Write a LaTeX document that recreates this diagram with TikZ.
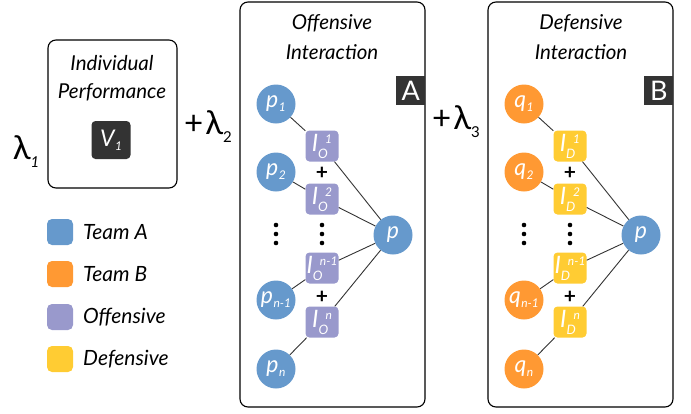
\documentclass[tikz,border=0pt]{standalone}
\usepackage{fontspec}
\setmainfont{Lato}
\definecolor{teamA}{HTML}{6699CC}
\definecolor{teamB}{HTML}{FF9933}
\definecolor{offc}{HTML}{9999CC}
\definecolor{defc}{HTML}{FFCC33}
\definecolor{dark}{HTML}{333333}
% letter with a lowered index
\newcommand{\withsub}[3][12]{#2\kern0.5pt\raisebox{-4pt}{\fontsize{#1}{#1}\selectfont #3}}
% interaction symbol: letter, sub and sup
\newcommand{\ivar}[2]{\fontsize{24}{24}\selectfont I%
  \makebox[0pt][l]{\raisebox{-7pt}{\fontsize{13}{13}\selectfont #1}}%
  \raisebox{8pt}{\kern7pt\fontsize{12}{12}\selectfont #2}}
\begin{document}
\begin{tikzpicture}[x=1pt,y=-1pt,
  panel/.style={draw=black, line width=1.1pt, rounded corners=8pt},
  title/.style={font=\itshape\fontsize{20.5}{20.5}\selectfont, inner sep=0pt},
  player/.style={circle, minimum size=39pt, inner sep=0pt, text=white,
                 font=\itshape\fontsize{23}{23}\selectfont},
  pla/.style={player, fill=teamA},
  plb/.style={player, fill=teamB},
  inter/.style={rounded corners=4pt, minimum width=33pt, minimum height=31pt,
                inner sep=0pt, text=white, font=\itshape},
  ioff/.style={inter, fill=offc},
  idef/.style={inter, fill=defc},
  tagbox/.style={fill=dark, text=white, minimum width=29pt, minimum height=29pt,
              inner sep=0pt, font=\fontsize{27}{27}\selectfont},
  link/.style={draw=dark, line width=0.9pt},
  plussign/.style={font=\bfseries\fontsize{21}{21}\selectfont, inner sep=0pt},
  coef/.style={font=\fontsize{33}{33}\selectfont, inner sep=0pt},
  swatch/.style={rounded corners=5pt, minimum size=26pt, inner sep=0pt},
  legtext/.style={anchor=west, inner sep=0pt, font=\itshape\fontsize{21}{21}\selectfont}]
\path[use as bounding box] (0,0) rectangle (691,413);

% coefficients
\node[coef] (lam1) at (26,152) {λ\raisebox{-8pt}{\fontsize{15}{15}\selectfont\itshape 1}};
\node[coef] (lam2) at (208,127) {+\kern2pt λ\raisebox{-8pt}{\fontsize{15}{15}\selectfont 2}};
\node[coef] (lam3) at (456,122) {+\kern2pt λ\raisebox{-8pt}{\fontsize{15}{15}\selectfont 3}};

% individual performance
\draw[panel] (48,40) rectangle (177,188);
\node[title] (ind1) at (112,63) {Individual};
\node[title] (ind2) at (112,92) {Performance};
\node[tagbox, rounded corners=4pt, minimum width=39pt, minimum height=38pt,
      font=\itshape\fontsize{23}{23}\selectfont] (v) at (111,140) {\withsub{V}{1}};

% offensive interaction
\draw[panel] (240,2) rectangle (425,407);
\node[title] (offt1) at (332,23) {Offensive};
\node[title] (offt2) at (332,52) {Interaction};
\node[tagbox, anchor=north east] (tagA) at (425.5,76) {A};

\node[pla] (pA1) at (276,104) {\withsub{p}{1}};
\node[pla] (pA2) at (276,172) {\withsub{p}{2}};
\node[pla] (pAm) at (276,300) {\withsub{p}{n-1}};
\node[pla] (pAn) at (276,369) {\withsub{p}{n}};
\node[pla] (pA)  at (393,235) {p};
\node[ioff] (iA1) at (322,146) {\ivar{O}{1}};
\node[ioff] (iA2) at (322,199) {\ivar{O}{2}};
\node[ioff] (iAm) at (322,268) {\ivar{O}{n-1}};
\node[ioff] (iAn) at (322,322) {\ivar{O}{n}};
\node[plussign] (plA1) at (322,173) {+};
\node[plussign] (plA2) at (322,297) {+};
\foreach \y in {225,234,243} {
  \fill (276,\y) circle (2.3);
  \fill (322,\y) circle (2.3);
}
\draw[link] (pA1) -- (iA1) (iA1) -- (pA);
\draw[link] (pA2) -- (iA2) (iA2) -- (pA);
\draw[link] (pAm) -- (iAm) (iAm) -- (pA);
\draw[link] (pAn) -- (iAn) (iAn) -- (pA);

% defensive interaction
\draw[panel] (488,2) rectangle (673,407);
\node[title] (deft1) at (581,23) {Defensive};
\node[title] (deft2) at (581,52) {Interaction};
\node[tagbox, anchor=north east] (tagB) at (673.5,76) {B};

\node[plb] (qB1) at (524,104) {\withsub{q}{1}};
\node[plb] (qB2) at (524,172) {\withsub{q}{2}};
\node[plb] (qBm) at (524,300) {\withsub{q}{n-1}};
\node[plb] (qBn) at (524,369) {\withsub{q}{n}};
\node[pla] (pB)  at (641,235) {p};
\node[idef] (iB1) at (570,146) {\ivar{D}{1}};
\node[idef] (iB2) at (570,199) {\ivar{D}{2}};
\node[idef] (iBm) at (570,268) {\ivar{D}{n-1}};
\node[idef] (iBn) at (570,322) {\ivar{D}{n}};
\node[plussign] (plB1) at (570,173) {+};
\node[plussign] (plB2) at (570,297) {+};
\foreach \y in {225,234,243} {
  \fill (524,\y) circle (2.3);
  \fill (570,\y) circle (2.3);
}
\draw[link] (qB1) -- (iB1) (iB1) -- (pB);
\draw[link] (qB2) -- (iB2) (iB2) -- (pB);
\draw[link] (qBm) -- (iBm) (iBm) -- (pB);
\draw[link] (qBn) -- (iBn) (iBn) -- (pB);

% legend
\node[swatch, fill=teamA] (sw1) at (60,232) {};
\node[swatch, fill=teamB] (sw2) at (60,274) {};
\node[swatch, fill=offc]  (sw3) at (60,317) {};
\node[swatch, fill=defc]  (sw4) at (60,359) {};
\node[legtext] (lg1) at (83,232) {Team A};
\node[legtext] (lg2) at (83,274) {Team B};
\node[legtext] (lg3) at (83,317) {Offensive};
\node[legtext] (lg4) at (83,359) {Defensive};
\end{tikzpicture}
\end{document}
